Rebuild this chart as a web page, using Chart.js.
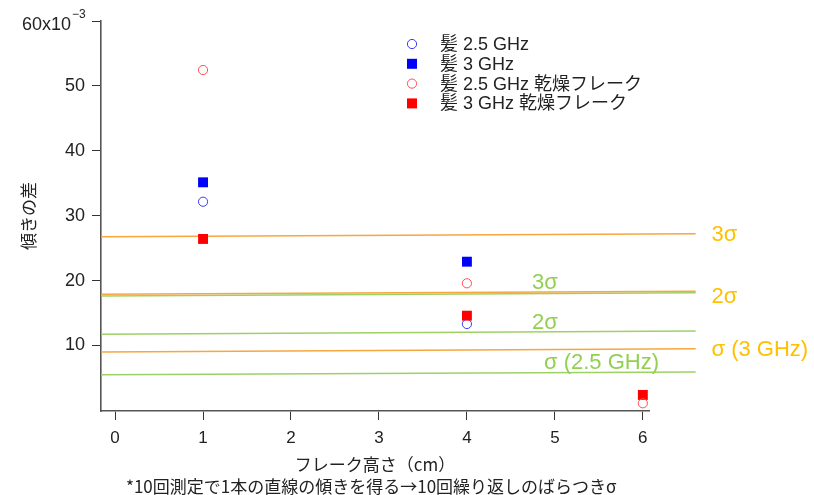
<!DOCTYPE html>
<html>
<head>
<meta charset="utf-8">
<script src="https://cdn.jsdelivr.net/npm/chart.js@4.4.1/dist/chart.umd.min.js"></script>
<style>
html,body{margin:0;padding:0;background:#fff;}
canvas{display:block;}
</style>
</head>
<body>
<canvas id="c" width="814" height="495"></canvas>
<script>
// values in units of 10^-3
const xTicks = [0, 1, 2, 3, 4, 5, 6];
const yTicks = [10, 20, 30, 40, 50, 60];

const hair25X = [1, 4];
const hair25Y = [32.15, 13.31];
const hair3X = [1, 4];
const hair3Y = [35.14, 22.91];
const flake25X = [1, 4, 6];
const flake25Y = [52.45, 19.58, 1.09];
const flake3X = [1, 4, 6];
const flake3Y = [26.41, 14.59, 2.37];

const sigmaX = [-0.16, 6.6];
const orange3s = [26.76, 27.22];
const orange2s = [17.88, 18.35];
const orange1s = [8.99, 9.50];
const green3s = [17.62, 18.13];
const green2s = [11.72, 12.23];
const green1s = [5.49, 5.91];

const legendLabels = ['髪 2.5 GHz', '髪 3 GHz', '髪 2.5 GHz 乾燥フレーク', '髪 3 GHz 乾燥フレーク'];
const xTitle = 'フレーク高さ（cm）';
const yTitle = '傾きの差';
const footnote = '*10回測定で1本の直線の傾きを得る→10回繰り返しのばらつきσ';

const FONT = '"Liberation Sans", Arial, "Noto Sans CJK JP", sans-serif';
const CJKFONT = '"Noto Sans CJK JP", "Liberation Sans", sans-serif';
const ORANGE = '#F8A63E';
const GREEN = '#9DD167';
const ORANGE_TXT = '#FFC000';
const GREEN_TXT = '#92D050';

function pts(xs, ys) { return xs.map((x, i) => ({x: x, y: ys[i]})); }

// sigma labels: [text, colour, x value, y value]
const sigmaLabels = [
  ['3σ', ORANGE_TXT, 6.78, 27.0],
  ['2σ', ORANGE_TXT, 6.78, 17.5],
  ['σ (3 GHz)', ORANGE_TXT, 6.78, 9.3],
  ['3σ', GREEN_TXT, 4.74, 19.6],
  ['2σ', GREEN_TXT, 4.74, 13.5],
  ['σ (2.5 GHz)', GREEN_TXT, 4.876, 7.3]
];

function lineDs(ys, color) {
  return {data: pts(sigmaX, ys), showLine: true, borderColor: color, borderWidth: 1.6,
    pointRadius: 0, clip: false, order: 2, isSigma: true};
}

const datasets = [
  {label: legendLabels[0], data: pts(hair25X, hair25Y), pointStyle: 'circle', pointRadius: 4.6,
   pointBorderColor: '#3b3bff', pointBackgroundColor: 'rgba(255,255,255,0)', pointBorderWidth: 1, order: 1},
  {label: legendLabels[1], data: pts(hair3X, hair3Y), pointStyle: 'rect', pointRadius: 7,
   pointBorderColor: '#0000ff', pointBackgroundColor: '#0000ff', pointBorderWidth: 0, order: 1},
  {label: legendLabels[2], data: pts(flake25X, flake25Y), pointStyle: 'circle', pointRadius: 4.6,
   pointBorderColor: '#ff5050', pointBackgroundColor: 'rgba(255,255,255,0)', pointBorderWidth: 1, order: 1},
  {label: legendLabels[3], data: pts(flake3X, flake3Y), pointStyle: 'rect', pointRadius: 7,
   pointBorderColor: '#ff0000', pointBackgroundColor: '#ff0000', pointBorderWidth: 0, order: 1},
  lineDs(orange3s, ORANGE),
  lineDs(orange2s, ORANGE),
  lineDs(orange1s, ORANGE),
  lineDs(green3s, GREEN),
  lineDs(green2s, GREEN),
  lineDs(green1s, GREEN)
];

const extras = {
  id: 'extras',
  afterDraw(chart) {
    const ctx = chart.ctx;
    const xs = chart.scales.x, ys = chart.scales.y;
    ctx.save();
    // sigma labels
    ctx.font = '22px ' + FONT;
    ctx.textBaseline = 'middle';
    ctx.textAlign = 'left';
    sigmaLabels.forEach(l => {
      ctx.fillStyle = l[1];
      ctx.fillText(l[0], xs.getPixelForValue(l[2]), ys.getPixelForValue(l[3]));
    });
    // 60x10^-3 label
    const y60 = ys.getPixelForValue(60);
    ctx.fillStyle = '#222';
    ctx.font = '18px ' + FONT;
    ctx.textAlign = 'right';
    ctx.fillText('60x10', 71, y60 + 4);
    ctx.font = '12px ' + FONT;
    ctx.textAlign = 'left';
    ctx.fillText('\u22123', 72, y60 - 6);
    // legend
    const lx = 412, tx = 440, ly0 = 44, dy = 19.8;
    ctx.font = '18px ' + FONT;
    datasets.slice(0, 4).forEach((d, i) => {
      const y = ly0 + i * dy;
      ctx.beginPath();
      if (d.pointStyle === 'circle') {
        ctx.arc(lx, y, d.pointRadius, 0, Math.PI * 2);
        ctx.strokeStyle = d.pointBorderColor;
        ctx.lineWidth = 1;
        ctx.stroke();
      } else {
        ctx.fillStyle = d.pointBackgroundColor;
        ctx.fillRect(lx - 5, y - 5, 10, 10);
      }
      ctx.fillStyle = '#222';
      ctx.textAlign = 'left';
      ctx.textBaseline = 'middle';
      ctx.fillText(d.label, tx, y + 1);
    });
    // footnote
    ctx.font = '17px ' + CJKFONT;
    ctx.fillStyle = '#222';
    ctx.textAlign = 'left';
    ctx.fillText(footnote, 126, 487);
    ctx.restore();
  }
};

new Chart(document.getElementById('c'), {
  type: 'scatter',
  data: {datasets: datasets},
  options: {
    responsive: false,
    animation: false,
    layout: {padding: {top: 21, right: 165, bottom: 0, left: 0}},
    plugins: {legend: {display: false}, tooltip: {enabled: false}},
    scales: {
      x: {
        type: 'linear', min: -0.16, max: 6.07,
        afterFit: s => { s.height = 84; },
        afterBuildTicks: s => { s.ticks = xTicks.map(v => ({value: v})); },
        grid: {drawOnChartArea: false, drawTicks: true, tickLength: 9, tickColor: '#333', tickWidth: 1},
        border: {display: true, color: '#555', width: 1.6},
        ticks: {color: '#222', font: {family: FONT, size: 17}, padding: 8, maxRotation: 0},
        title: {display: true, text: xTitle, color: '#222', font: {family: CJKFONT, size: 17}, padding: {top: 0, bottom: 20}}
      },
      y: {
        type: 'linear', min: -0.1, max: 60,
        afterFit: s => { s.width = 101; },
        afterBuildTicks: s => { s.ticks = yTicks.map(v => ({value: v})); },
        grid: {drawOnChartArea: false, drawTicks: true, tickLength: 9, tickColor: '#333', tickWidth: 1},
        border: {display: true, color: '#555', width: 1.6},
        ticks: {color: '#222', font: {family: FONT, size: 18}, padding: 7,
          callback: v => (v === 60 ? '' : String(v))},
        title: {display: true, text: yTitle, color: '#222', font: {family: CJKFONT, size: 17}, padding: {top: 18, bottom: 0}}
      }
    }
  },
  plugins: [extras]
});
</script>
</body>
</html>
